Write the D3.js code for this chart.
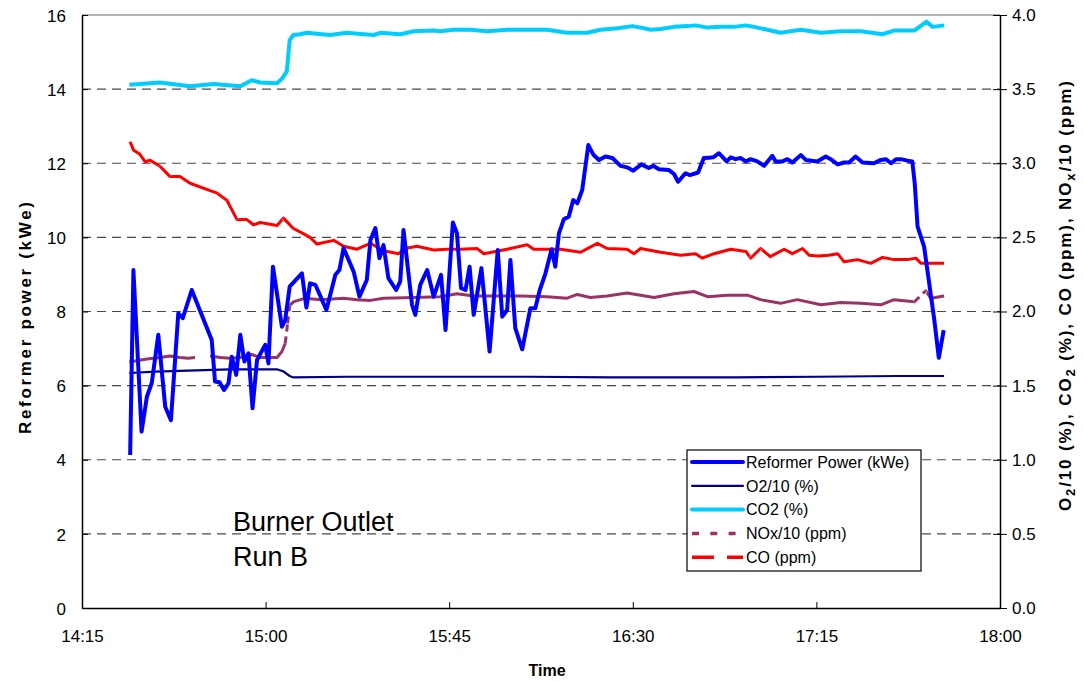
<!DOCTYPE html>
<html>
<head>
<meta charset="utf-8">
<script src="https://cdn.jsdelivr.net/npm/d3@7"></script>
<style>
  body { margin: 0; background: #fff; }
  svg { font-family: "Liberation Sans", Arial, sans-serif; }
</style>
</head>
<body>
<svg id="chart" width="1084" height="681"></svg>
<script>
// times are minutes after 14:15
var xTickLabels = ["14:15", "15:00", "15:45", "16:30", "17:15", "18:00"];
var leftTicks = [0, 2, 4, 6, 8, 10, 12, 14, 16];
var rightTicks = [0, 0.5, 1, 1.5, 2, 2.5, 3, 3.5, 4];

var powerMin = [11.8, 12.6, 14.6, 15.9, 17.1, 18.7, 20.4, 21.8, 23.6, 24.7, 26.9, 31.8, 32.6, 33.7, 34.8, 35.9, 36.7, 37.8, 38.8, 39.8, 40.8, 41.8, 42.9, 44.9, 45.7, 46.8, 49.0, 49.8, 50.9, 53.9, 55.0, 55.9, 57.2, 59.9, 62.1, 63.1, 64.1, 66.6, 68.0, 69.8, 70.7, 71.9, 72.9, 73.9, 75.1, 77.0, 78.0, 78.8, 80.9, 81.7, 82.9, 84.6, 86.2, 88.0, 89.1, 90.9, 91.9, 92.9, 94.0, 95.0, 96.0, 97.9, 99.9, 101.9, 103.0, 104.2, 105.0, 106.2, 107.9, 109.9, 111.1, 112.2, 113.6, 115.1, 116.0, 116.9, 118.1, 119.3, 120.4, 121.4, 122.6, 124.1, 125.4, 126.7, 128.3, 130.0, 132.0, 133.6, 135.1, 137.1, 138.9, 140.0, 141.4, 143.8, 145.1, 146.1, 147.9, 149.0, 151.0, 152.4, 153.7, 154.7, 156.1, 158.0, 159.0, 160.2, 161.4, 162.7, 163.9, 165.5, 167.2, 169.2, 170.0, 171.7, 172.9, 174.1, 176.2, 177.4, 180.2, 182.3, 183.5, 185.2, 186.8, 188.0, 189.6, 191.3, 194.1, 195.8, 197.0, 198.3, 199.5, 200.7, 202.3, 203.5, 204.1, 204.8, 206.4, 208.9, 210.0, 211.2];
var powerKWe = [4.13, 9.12, 4.76, 5.70, 6.07, 7.37, 5.43, 5.07, 7.95, 7.82, 8.58, 7.23, 6.11, 6.09, 5.88, 6.06, 6.78, 6.29, 7.37, 6.65, 6.87, 5.39, 6.69, 7.10, 6.60, 9.21, 7.59, 7.77, 8.67, 9.03, 8.11, 8.76, 8.72, 8.04, 8.99, 9.12, 9.71, 9.07, 8.40, 8.85, 9.93, 10.25, 9.44, 9.79, 8.90, 8.58, 8.81, 10.20, 8.18, 7.91, 8.72, 9.12, 8.40, 8.99, 7.50, 10.40, 10.11, 8.63, 8.58, 9.21, 7.91, 9.17, 6.92, 9.66, 7.86, 8.04, 9.39, 7.55, 6.98, 8.09, 8.09, 8.58, 9.03, 9.68, 9.21, 10.11, 10.49, 10.56, 11.01, 10.92, 11.28, 12.49, 12.22, 12.09, 12.18, 12.14, 11.93, 11.89, 11.80, 11.97, 11.87, 11.93, 11.84, 11.82, 11.71, 11.50, 11.73, 11.68, 11.75, 12.14, 12.15, 12.16, 12.27, 12.05, 12.16, 12.11, 12.14, 12.05, 12.11, 12.05, 11.93, 12.20, 12.05, 12.05, 12.11, 12.02, 12.22, 12.09, 12.05, 12.18, 12.11, 11.97, 12.02, 12.02, 12.18, 12.02, 12.00, 12.09, 12.11, 12.00, 12.11, 12.11, 12.07, 12.05, 11.46, 10.29, 9.75, 7.77, 6.75, 7.50];

var o2Min = [11.6, 18.0, 24.0, 30.0, 36.3, 47.8, 49.4, 50.9, 51.8, 64.9, 90.0, 110.0, 130.0, 160.0, 180.0, 200.0, 211.3];
var o2Pct = [1.585, 1.595, 1.600, 1.605, 1.610, 1.610, 1.595, 1.565, 1.555, 1.560, 1.560, 1.560, 1.555, 1.555, 1.560, 1.565, 1.565];

var co2Min = [11.6, 19.1, 26.5, 32.2, 38.8, 41.6, 43.7, 47.8, 49.0, 50.2, 50.9, 51.8, 53.5, 55.1, 60.8, 64.9, 69.0, 71.5, 73.1, 78.0, 81.3, 86.2, 87.8, 91.1, 95.2, 99.3, 104.2, 109.1, 114.0, 118.9, 123.8, 127.1, 131.2, 134.9, 137.0, 139.4, 141.8, 145.1, 148.4, 150.4, 153.3, 156.5, 159.8, 162.7, 164.7, 168.0, 171.2, 176.2, 181.1, 186.0, 190.9, 196.2, 199.0, 204.0, 207.0, 208.5, 211.3];
var co2Pct = [3.53, 3.545, 3.52, 3.535, 3.52, 3.56, 3.545, 3.54, 3.57, 3.62, 3.83, 3.865, 3.87, 3.88, 3.865, 3.88, 3.87, 3.865, 3.88, 3.87, 3.89, 3.895, 3.89, 3.90, 3.90, 3.89, 3.90, 3.90, 3.90, 3.88, 3.88, 3.90, 3.91, 3.925, 3.915, 3.90, 3.905, 3.92, 3.925, 3.93, 3.915, 3.92, 3.92, 3.93, 3.92, 3.90, 3.88, 3.90, 3.88, 3.89, 3.89, 3.87, 3.895, 3.895, 3.955, 3.92, 3.93];

// NOx/10, null = missing reading
var noxMin = [11.6, 15.9, 19.1, 21.6, 24.0, 26.1, 27.7, 29.5, 31.4, 33.9, 36.3, 38.8, 41.6, 43.7, 47.8, 49.0, 49.8, 50.4, 50.9, 51.8, 54.7, 58.4, 64.1, 67.4, 70.7, 73.9, 81.3, 87.8, 91.9, 96.0, 101.7, 107.5, 114.0, 118.9, 121.4, 124.6, 128.7, 133.6, 140.2, 145.1, 150.0, 153.3, 158.2, 163.1, 166.3, 171.2, 175.3, 181.1, 186.0, 190.9, 195.8, 199.0, 204.0, 206.8, 208.0, 211.3];
var noxPpm = [1.66, 1.68, 1.69, 1.70, 1.69, 1.685, 1.69, null, 1.70, 1.69, 1.685, 1.69, 1.71, 1.69, 1.69, 1.73, 1.785, 1.92, 2.04, 2.065, 2.09, 2.08, 2.09, 2.08, 2.075, 2.09, 2.095, 2.10, 2.12, 2.105, 2.105, 2.105, 2.10, 2.09, 2.115, 2.095, 2.105, 2.125, 2.095, 2.12, 2.135, 2.10, 2.11, 2.11, 2.08, 2.055, 2.08, 2.045, 2.06, 2.055, 2.045, 2.08, 2.065, 2.14, 2.09, 2.105];

var coMin = [11.8, 12.6, 14.2, 15.5, 16.7, 19.1, 21.6, 24.0, 26.5, 31.4, 33.0, 35.5, 38.0, 40.4, 42.0, 43.7, 47.8, 49.4, 51.8, 53.9, 55.9, 57.6, 61.7, 64.1, 67.4, 70.7, 73.9, 77.6, 79.2, 82.1, 86.2, 89.5, 92.8, 96.8, 98.5, 104.2, 109.1, 110.7, 117.3, 122.2, 126.3, 128.7, 133.6, 135.3, 136.9, 141.8, 146.7, 150.4, 152.0, 154.9, 159.0, 162.7, 163.9, 166.3, 168.7, 172.1, 174.1, 176.6, 178.2, 180.5, 183.0, 185.2, 186.8, 190.1, 193.3, 196.2, 199.0, 202.3, 204.4, 205.6, 211.3];
var coPpm = [3.145, 3.09, 3.06, 3.01, 3.02, 2.98, 2.91, 2.91, 2.865, 2.815, 2.80, 2.75, 2.62, 2.62, 2.585, 2.60, 2.58, 2.63, 2.56, 2.53, 2.50, 2.455, 2.48, 2.44, 2.42, 2.46, 2.41, 2.39, 2.425, 2.44, 2.415, 2.42, 2.42, 2.425, 2.39, 2.42, 2.45, 2.42, 2.42, 2.40, 2.46, 2.425, 2.42, 2.39, 2.425, 2.40, 2.38, 2.39, 2.36, 2.39, 2.42, 2.405, 2.36, 2.425, 2.37, 2.42, 2.39, 2.425, 2.38, 2.375, 2.38, 2.39, 2.335, 2.35, 2.325, 2.365, 2.35, 2.35, 2.36, 2.325, 2.325];

var legendNames = ["Reformer Power (kWe)", "O2/10 (%)", "CO2 (%)", "NOx/10 (ppm)", "CO (ppm)"];

var svg = d3.select("#chart");
var plotL = 82, plotR = 1000, plotT = 15, plotB = 608;

function toDate(m) {
    return new Date(2000, 0, 1, 14, 15 + Math.floor(m), Math.round((m % 1) * 60));
}
function parseHM(s) {
    var p = s.split(":");
    return new Date(2000, 0, 1, +p[0], +p[1]);
}

var x = d3.scaleTime()
    .domain([parseHM("14:15"), parseHM("18:00")])
    .range([plotL, plotR]);
var yL = d3.scaleLinear().domain([0, 16]).range([plotB, plotT]);
var yR = d3.scaleLinear().domain([0, 4]).range([plotB, plotT]);

//gridlines
svg.append("g").selectAll("line")
    .data(leftTicks.filter(function (d) { return d > 0 && d < 16; }))
    .enter().append("line")
    .attr("x1", plotL).attr("x2", plotR)
    .attr("y1", function (d) { return yL(d); })
    .attr("y2", function (d) { return yL(d); })
    .attr("stroke", "#4a4a4a")
    .attr("stroke-width", 1.2)
    .attr("stroke-dasharray", "9,6");

svg.append("line")
    .attr("x1", plotL).attr("x2", plotR)
    .attr("y1", plotT).attr("y2", plotT)
    .attr("stroke", "#9a9a9a").attr("stroke-width", 1.5);

//axes
var xAxis = d3.axisBottom(x)
    .tickValues(xTickLabels.map(parseHM))
    .tickFormat(d3.timeFormat("%H:%M"))
    .tickSizeInner(-6).tickSizeOuter(0).tickPadding(22);
var gx = svg.append("g").attr("transform", "translate(0," + plotB + ")").call(xAxis);

var yAxisL = d3.axisLeft(yL).tickValues(leftTicks)
    .tickSizeInner(-6).tickSizeOuter(0).tickPadding(16);
var gl = svg.append("g").attr("transform", "translate(" + plotL + ",0)").call(yAxisL);

var yAxisR = d3.axisRight(yR).tickValues(rightTicks)
    .tickFormat(d3.format(".1f"))
    .tickSizeInner(7).tickSizeOuter(0).tickPadding(5);
var gr = svg.append("g").attr("transform", "translate(" + plotR + ",0)").call(yAxisR);
gr.selectAll(".tick line").attr("x1", -7);

[gx, gl, gr].forEach(function (g) {
    g.select(".domain").attr("stroke", "#000").attr("stroke-width", 1.5);
    g.selectAll(".tick line").attr("stroke", "#000");
    g.selectAll(".tick text").attr("font-size", "17px").attr("fill", "#000")
        .attr("font-family", "Liberation Sans, Arial, sans-serif");
});
gl.selectAll(".tick text").attr("dy", "0.36em");

//series
function pts(mins, vals) {
    return mins.map(function (m, i) { return { t: toDate(m), v: vals[i] }; });
}
var lineL = d3.line().x(function (d) { return x(d.t); }).y(function (d) { return yL(d.v); });
var lineR = d3.line()
    .defined(function (d) { return d.v !== null; })
    .x(function (d) { return x(d.t); }).y(function (d) { return yR(d.v); });

svg.append("path").datum(pts(o2Min, o2Pct))
    .attr("d", lineR).attr("fill", "none")
    .attr("stroke", "#000080").attr("stroke-width", 2.2);

svg.append("path").datum(pts(co2Min, co2Pct))
    .attr("d", lineR).attr("fill", "none")
    .attr("stroke", "#00CCFF").attr("stroke-width", 4)
    .attr("stroke-linejoin", "round");

// dashed series: the readings are dense so only steep jumps show the dash
function dashedSeries(data, color, width, dash) {
    var g = svg.append("g");
    g.append("path").datum(data)
        .attr("d", lineR).attr("fill", "none")
        .attr("stroke", color).attr("stroke-width", width)
        .attr("stroke-linejoin", "round");
    for (var i = 0; i < data.length - 1; i++) {
        if (data[i].v === null || data[i + 1].v === null) continue;
        if (Math.abs(yR(data[i].v) - yR(data[i + 1].v)) < 9) continue;
        // white out the solid piece, redraw it dashed
        var seg = [data[i], data[i + 1]];
        g.append("path").datum(seg)
            .attr("d", lineR).attr("fill", "none")
            .attr("stroke", "#fff").attr("stroke-width", width + 1);
        g.append("path").datum(seg)
            .attr("d", lineR).attr("fill", "none")
            .attr("stroke", color).attr("stroke-width", width)
            .attr("stroke-dasharray", dash);
    }
}
dashedSeries(pts(noxMin, noxPpm), "#993366", 3, "7,5");
dashedSeries(pts(coMin, coPpm), "#FF0000", 3, "22,13");

svg.append("path").datum(pts(powerMin, powerKWe))
    .attr("d", lineL).attr("fill", "none")
    .attr("stroke", "#0000FF").attr("stroke-width", 4)
    .attr("stroke-linejoin", "round");

//legend
var legend = svg.append("g").attr("transform", "translate(687,450)");
legend.append("rect").attr("width", 234).attr("height", 121)
    .attr("fill", "#fff").attr("stroke", "#000").attr("stroke-width", 1.2);
var styles = [
    { c: "#0000FF", w: 4, d: null, cap: "round" },
    { c: "#000080", w: 2.2, d: null, cap: "round" },
    { c: "#00CCFF", w: 4, d: null, cap: "round" },
    { c: "#993366", w: 3.5, d: "7,11.3", cap: "butt" },
    { c: "#FF0000", w: 3.5, d: "22,13", cap: "butt" }
];
legendNames.forEach(function (name, i) {
    var yy = 12 + i * 23.8;
    legend.append("line")
        .attr("x1", 5).attr("x2", 56).attr("y1", yy).attr("y2", yy)
        .attr("stroke", styles[i].c).attr("stroke-width", styles[i].w)
        .attr("stroke-linecap", styles[i].cap)
        .attr("stroke-dasharray", styles[i].d);
    legend.append("text").attr("x", 59).attr("y", yy).attr("dy", "0.36em")
        .attr("font-size", "16px").text(name);
});

//labels
svg.append("text").attr("x", 233).attr("y", 531)
    .attr("font-size", "27px").text("Burner Outlet");
svg.append("text").attr("x", 233).attr("y", 566)
    .attr("font-size", "27px").text("Run B");

svg.append("text").attr("x", 547).attr("y", 676)
    .attr("text-anchor", "middle").attr("font-weight", "bold")
    .attr("font-size", "16px").text("Time");

svg.append("text").attr("transform", "translate(31,318) rotate(-90)")
    .attr("text-anchor", "middle").attr("font-weight", "bold")
    .attr("font-size", "17px")
    .attr("textLength", 232).attr("lengthAdjust", "spacing")
    .text("Reformer power (kWe)");

var rt = svg.append("text").attr("transform", "translate(1071,296) rotate(-90)")
    .attr("text-anchor", "middle").attr("font-weight", "bold")
    .attr("font-size", "17px")
    .attr("textLength", 430).attr("lengthAdjust", "spacing");
rt.append("tspan").text("O");
rt.append("tspan").attr("dy", 4).attr("font-size", "13px").text("2");
rt.append("tspan").attr("dy", -4).text("/10 (%), CO");
rt.append("tspan").attr("dy", 4).attr("font-size", "13px").text("2");
rt.append("tspan").attr("dy", -4).text(" (%), CO (ppm), NO");
rt.append("tspan").attr("dy", 4).attr("font-size", "13px").text("x");
rt.append("tspan").attr("dy", -4).text("/10 (ppm)");
</script>
</body>
</html>
